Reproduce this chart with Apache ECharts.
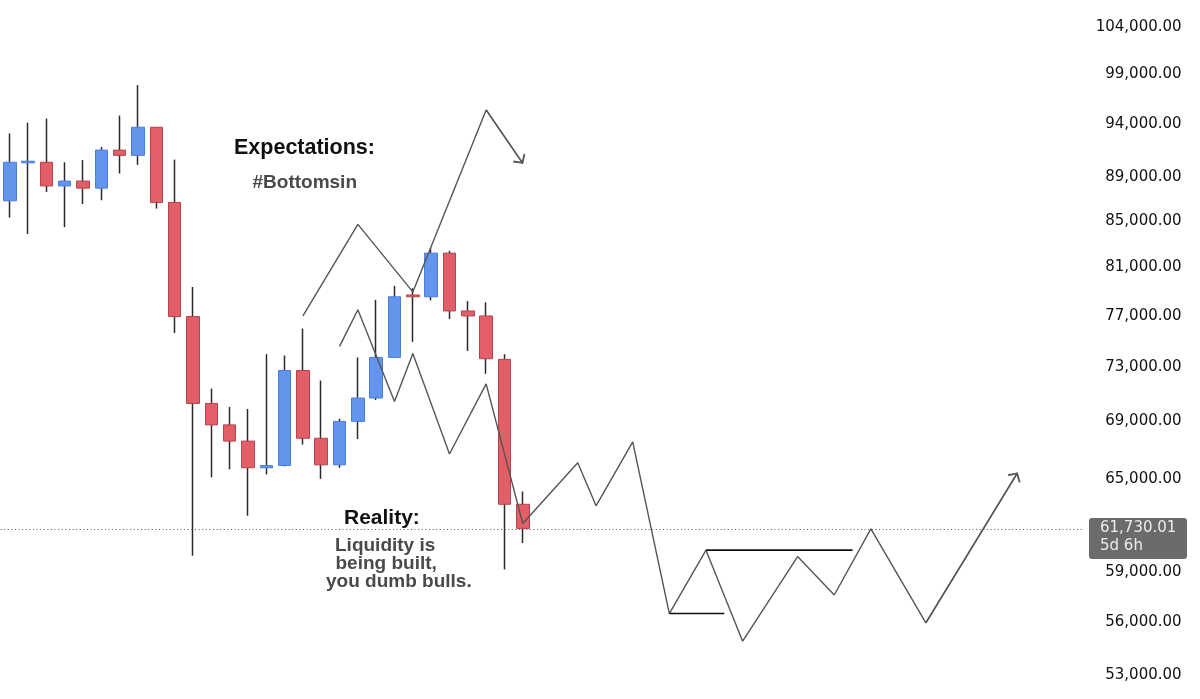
<!DOCTYPE html>
<html><head><meta charset="utf-8">
<script src="https://cdn.jsdelivr.net/npm/echarts@6/dist/echarts.min.js"></script>
<style>html,body{margin:0;padding:0;background:#fff}#c{width:1200px;height:699px}</style>
</head><body><div id="c"></div>
<script>
// ---- data ----
const slotCount = 59;
const categories = Array.from({length: slotCount}, (_, i) => 'P' + (i + 1));
const opens  = [86800,90300,90350,88150,88600,87950,91500,91000,93700,86650,76950,70300,68750,67600,65750,65900,72750,67800,65950,69000,70700,73750,78700,78550,82200,77400,77000,73600,63300];
const closes = [90350,90450,88150,88600,87950,91500,91000,93700,86650,76950,70300,68750,67600,65750,65900,72750,67800,65950,69000,70700,73750,78550,78550,82200,77400,77000,73650,63300,61730.01];
const lows   = [85300,83850,87600,84450,86500,86850,89300,90100,86100,75650,60000,65100,65650,62550,65300,65850,67350,65000,65750,67750,70550,73700,74950,78250,76750,74250,72500,59150,60800];
const highs  = [93100,94150,94550,90350,90550,91800,94850,97900,93700,90600,79350,71400,70050,69900,74000,73900,76000,72000,69200,73750,78300,79450,79250,82650,82400,78200,78100,74000,64150];
const expectationPath = [[16,77000],[19,84700],[22,78950],[26,95400],[28,90250]];
const realityPath = [[18,74600],[19,77500],[21,70450],[22,74050],[24,66700],[26,71750],[28,62050],[31,66100],[32,63200],[34,67550],[36,56500],[38,60350],[40,54900],[43,59950],[45,57600],[47,61700],[50,55950],[55,65400]];
const lowLevel = [[36,56500],[39,56500]];
const highLevel = [[38,60350],[46,60350]];
const tickValues = [53000,56000,59000,65000,69000,73000,77000,81000,85000,89000,94000,99000,104000];
const lastPrice = 61730.01;
const lastPriceLabel = '61,730.01';
const timerLabel = '5d 6h';

// ---- chart ----
const L = Math.log;
const fmt = v => v.toLocaleString('en-US', {minimumFractionDigits: 2, maximumFractionDigits: 2});
const nearestTick = lv => tickValues.reduce((a, b) => Math.abs(L(b) - lv) < Math.abs(L(a) - lv) ? b : a);

const wickData = opens.map((o, i) => [L(o), L(closes[i]), L(lows[i]), L(highs[i])]);
const bodyData = opens.map((o, i) => [L(o), L(closes[i]), L(Math.min(o, closes[i])), L(Math.max(o, closes[i]))]);
const toPts = arr => arr.map(p => [p[0], L(p[1])]);
const lastSeg = arr => ({coords: toPts(arr.slice(-2))});

const lineColor = '#555555';
const arrowPath = 'path://M5,-5 M5,0 L10,5 L9.1,5.9 L5,1.8 L0.9,5.9 L0,5 Z';

const chart = echarts.init(document.getElementById('c'), null, {renderer: 'canvas'});
chart.setOption({
  animation: false,
  backgroundColor: '#ffffff',
  grid: {left: 0.6, width: 1081, top: 27, bottom: 24, outerBoundsMode: 'none', containLabel: false},
  xAxis: {type: 'category', data: categories, boundaryGap: true, show: false},
  yAxis: {
    type: 'value', position: 'right', min: L(53000), max: L(104000), scale: true,
    axisLine: {show: false}, axisTick: {show: false}, splitLine: {show: false},
    axisLabel: {
      customValues: tickValues.map(L),
      formatter: v => fmt(nearestTick(v)),
      color: '#111', fontSize: 15, fontFamily: 'DejaVu Sans', align: 'right', margin: 100
    }
  },
  series: [
    {
      type: 'candlestick', data: wickData, barWidth: 1, z: 2, silent: true,
      itemStyle: {color: '#2a2a2a', color0: '#2a2a2a', borderColor: '#2a2a2a', borderColor0: '#2a2a2a', borderWidth: 1.5}
    },
    {
      type: 'candlestick', data: bodyData, barWidth: 13, z: 3, silent: true,
      itemStyle: {color: '#6495ed', color0: '#e25f68', borderColor: '#4b7de0', borderColor0: '#b5434d', borderWidth: 1},
      markLine: {
        silent: true, symbol: ['none', 'none'], label: {show: false},
        lineStyle: {color: '#555', type: [1, 2.6], width: 1},
        data: [{yAxis: L(lastPrice)}]
      }
    },
    {type: 'line', data: toPts(expectationPath), showSymbol: false, silent: true, z: 5, lineStyle: {color: lineColor, width: 1.4}},
    {type: 'line', data: toPts(realityPath), showSymbol: false, silent: true, z: 5, lineStyle: {color: lineColor, width: 1.4}},
    {type: 'line', data: toPts(lowLevel), showSymbol: false, silent: true, z: 5, lineStyle: {color: '#111', width: 1.6}},
    {type: 'line', data: toPts(highLevel), showSymbol: false, silent: true, z: 5, lineStyle: {color: '#111', width: 1.6}},
    {
      type: 'lines', coordinateSystem: 'cartesian2d', z: 5, silent: true,
      symbol: ['none', arrowPath], symbolSize: [14, 15],
      lineStyle: {color: lineColor, width: 1.4, opacity: 1},
      data: [lastSeg(expectationPath), lastSeg(realityPath)]
    }
  ]
});

const py = chart.convertToPixel({yAxisIndex: 0}, L(lastPrice));
const boldFont = sz => 'bold ' + sz + 'px "Liberation Sans", Arial, sans-serif';
const txt = (text, x, y, sz, fill) => ({type: 'text', silent: true, style: {text, x, y, fill, font: boldFont(sz), verticalAlign: 'middle', align: 'left'}});
chart.setOption({
  graphic: [
    {type: 'rect', silent: true, shape: {x: 1089, y: py - 10.5, width: 98, height: 41, r: 3}, style: {fill: '#6b6b6b'}, z: 10},
    {type: 'text', silent: true, z: 11, style: {text: lastPriceLabel, x: 1100, y: py - 0.5, fill: '#ececec', font: '15px "DejaVu Sans"', verticalAlign: 'middle'}},
    {type: 'text', silent: true, z: 11, style: {text: timerLabel, x: 1100, y: py + 18, fill: '#ececec', font: '15px "DejaVu Sans"', verticalAlign: 'middle'}},
    txt('Expectations:', 234, 148, 21.5, '#111'),
    txt('#Bottomsin', 252.5, 182.5, 19, '#4a4a4a'),
    txt('Reality:', 344, 518, 21, '#111'),
    txt('Liquidity is', 335, 545.5, 19, '#4a4a4a'),
    txt('being built,', 335.5, 563.5, 19, '#4a4a4a'),
    txt('you dumb bulls.', 326, 581.5, 19, '#4a4a4a')
  ]
});
</script>
</body></html>
